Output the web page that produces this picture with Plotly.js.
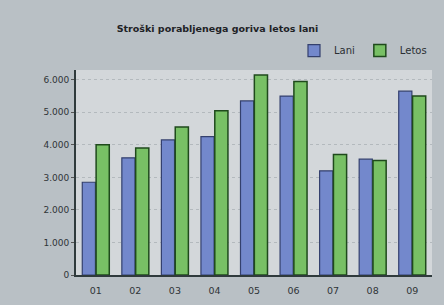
<!DOCTYPE html>
<html><head><meta charset="utf-8">
<script src="https://cdn.plot.ly/plotly-3.0.1.min.js"></script>
<style>html,body{margin:0;padding:0;background:#b9c0c5;}#c{width:444px;height:305px;}</style>
</head><body><div id="c"></div>
<script>
const categories = ["01","02","03","04","05","06","07","08","09"];
const lani = [2850, 3600, 4150, 4250, 5350, 5500, 3200, 3560, 5650];
const letos = [4000, 3900, 4550, 5050, 6150, 5950, 3700, 3520, 5500];
const yTicks = [0,1000,2000,3000,4000,5000,6000];
const yTickText = ["0","1.000","2.000","3.000","4.000","5.000","6.000"];

const traces = [
  {type:"bar", name:"Lani", x:categories, y:lani,
   marker:{color:"#7388cc", line:{color:"#34406e", width:1.2}}},
  {type:"bar", name:"Letos", x:categories, y:letos,
   marker:{color:"#78c065", line:{color:"#1f4a1c", width:1.5}}}
];
const layout = {
  width:444, height:305,
  margin:{l:76, r:12, t:70, b:30},
  paper_bgcolor:"#b9c0c5",
  plot_bgcolor:"#d3d7da",
  font:{family:"DejaVu Sans, sans-serif", size:9, color:"#2a2f33"},
  title:{text:"<b>Stroški porabljenega goriva letos lani</b>", x:0.49, xanchor:"center", y:0.905, yanchor:"middle",
         font:{size:9.5, color:"#1e2226"}},
  showlegend:true,
  legend:{orientation:"h", x:1.0, xanchor:"right", y:1.095, yanchor:"middle",
          bgcolor:"rgba(0,0,0,0)", font:{size:10, color:"#2a2f33"}, itemwidth:30, tracegroupgap:0},
  bargap:0.3, bargroupgap:0.05,
  xaxis:{type:"category", showline:true, linecolor:"#2f3a3c", linewidth:2, ticks:"", tickfont:{size:9.5, color:"#2f3437"},
         ticklabelstandoff:6, showgrid:false, mirror:false},
  yaxis:{range:[0,6300], tickvals:yTicks, ticktext:yTickText, showline:true, linecolor:"#2f3a3c", linewidth:2,
         ticks:"outside", ticklen:3, tickcolor:"#555", showgrid:true, gridcolor:"#b3b9bd", griddash:"dot",
         gridwidth:1, zeroline:false, tickfont:{size:9, color:"#2f3437"}}
};
Plotly.newPlot("c", traces, layout, {displayModeBar:false, staticPlot:true});
</script></body></html>
